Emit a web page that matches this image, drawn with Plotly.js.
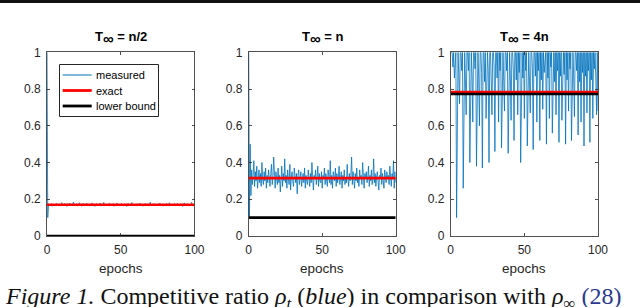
<!DOCTYPE html>
<html>
<head>
<meta charset="utf-8">
<script src="https://cdn.plot.ly/plotly-3.0.1.min.js"></script>
<style>html,body{margin:0;padding:0;background:#fff;}#chart{width:640px;height:307px;}</style>
</head>
<body>
<div id="chart"></div>
<script>
// ---- data ----
const epochStep = 0.5;
const panelTitles = ["n/2", "n", "4n"];
const seriesNames = ["measured", "exact", "lower bound"];
const exactValues = [0.17, 0.315, 0.784];
const lowerBoundValues = [0.0, 0.1, 0.773];
const xTickVals = [0, 50, 100];
const yTickVals = [0, 0.2, 0.4, 0.6, 0.8, 1];
const yTickText = ["0", "0.2", "0.4", "0.6", "0.8", "1"];

const measured1 = [1,0.10,0.17,0.165,0.173,0.168,0.176,0.162,0.171,0.167,
0.174,0.166,0.169,0.178,0.164,0.172,0.168,0.175,0.163,0.170,
0.182,0.166,0.171,0.165,0.177,0.169,0.173,0.161,0.176,0.168,
0.172,0.179,0.164,0.170,0.167,0.174,0.185,0.165,0.171,0.168,
0.176,0.163,0.172,0.169,0.181,0.166,0.174,0.162,0.170,0.177,
0.167,0.173,0.164,0.171,0.178,0.168,0.165,0.175,0.170,0.163,
0.172,0.180,0.166,0.169,0.174,0.161,0.171,0.176,0.167,0.173,
0.164,0.170,0.179,0.168,0.165,0.174,0.169,0.183,0.166,0.172,
0.163,0.170,0.175,0.167,0.171,0.178,0.164,0.169,0.173,0.166,
0.176,0.162,0.171,0.168,0.174,0.180,0.165,0.170,0.167,0.173,
0.169,0.177,0.164,0.171,0.166,0.175,0.168,0.172,0.161,0.170,
0.178,0.165,0.173,0.167,0.170,0.182,0.164,0.169,0.174,0.166,
0.171,0.163,0.176,0.168,0.172,0.165,0.179,0.170,0.167,0.174,
0.162,0.171,0.168,0.177,0.164,0.173,0.169,0.166,0.175,0.170,
0.184,0.165,0.172,0.167,0.171,0.176,0.163,0.169,0.174,0.168,
0.166,0.173,0.170,0.179,0.164,0.171,0.167,0.175,0.162,0.170,
0.172,0.168,0.177,0.165,0.173,0.169,0.181,0.166,0.171,0.164,
0.174,0.170,0.167,0.176,0.163,0.172,0.168,0.178,0.165,0.171,
0.169,0.175,0.166,0.173,0.161,0.170,0.180,0.167,0.172,0.164,
0.176,0.168,0.171,0.165,0.174,0.169,0.183,0.166,0.172,0.170,
0.168];

const measured2 = [1,0.10,0.50,0.22,0.36,0.28,0.33,0.41,0.27,0.35,
0.30,0.38,0.26,0.32,0.36,0.29,0.34,0.27,0.40,0.31,
0.28,0.35,0.30,0.37,0.26,0.33,0.29,0.36,0.31,0.27,
0.34,0.39,0.28,0.32,0.43,0.30,0.26,0.35,0.31,0.28,
0.37,0.29,0.33,0.24,0.31,0.38,0.27,0.34,0.30,0.42,
0.29,0.33,0.26,0.36,0.31,0.28,0.39,0.25,0.32,0.35,
0.30,0.27,0.37,0.31,0.29,0.34,0.23,0.33,0.36,0.28,
0.32,0.35,0.27,0.31,0.34,0.29,0.37,0.26,0.33,0.30,
0.28,0.36,0.31,0.27,0.34,0.29,0.40,0.30,0.25,0.33,
0.31,0.36,0.28,0.32,0.38,0.27,0.34,0.30,0.29,0.35,
0.26,0.33,0.31,0.37,0.28,0.34,0.30,0.27,0.36,0.32,
0.29,0.41,0.28,0.33,0.26,0.35,0.31,0.30,0.37,0.27,
0.34,0.29,0.32,0.38,0.28,0.31,0.35,0.26,0.33,0.30,
0.36,0.28,0.32,0.29,0.39,0.31,0.27,0.34,0.30,0.33,
0.43,0.28,0.35,0.31,0.26,0.34,0.30,0.37,0.29,0.32,
0.27,0.36,0.31,0.33,0.28,0.40,0.30,0.26,0.34,0.31,
0.35,0.29,0.32,0.38,0.27,0.33,0.30,0.36,0.28,0.31,
0.42,0.29,0.34,0.27,0.32,0.35,0.30,0.25,0.33,0.31,
0.37,0.28,0.34,0.30,0.26,0.36,0.32,0.29,0.35,0.31,
0.33,0.28,0.38,0.30,0.27,0.34,0.31,0.41,0.26,0.35,
0.29];

const measured3 = [1,1,1,0.92,1,0.86,1,1,0.10,1,1,0.88,0.72,1,1,0.9,1,0.26,1,1,
0.85,0.66,1,1,0.9,1,0.40,1,1,0.87,0.62,1,1,0.91,1,0.38,1,1,0.86,0.60,
1,1,0.89,0.37,1,1,0.84,1,0.64,1,1,0.9,0.40,1,1,0.85,0.66,1,1,0.92,
0.46,1,1,0.86,1,0.62,1,0.9,1,0.48,1,1,0.84,0.68,1,1,0.9,1,0.45,1,
1,0.87,0.63,1,1,0.91,0.52,1,1,0.85,1,0.66,1,0.89,1,0.40,1,1,0.86,1,
0.64,1,0.9,1,0.49,1,1,0.84,0.67,1,1,0.91,0.47,1,1,0.87,1,0.62,1,0.9,
1,0.52,1,0.85,1,0.69,1,0.89,1,1,0.50,1,0.86,1,0.64,1,0.92,1,0.56,1,
1,0.84,1,0.66,1,0.9,1,0.51,1,0.87,1,0.63,1,1,0.88,1,0.50,1,0.85,1,
0.68,1,0.91,1,0.52,1,1,0.86,0.65,1,1,0.9,1,0.55,1,0.84,1,0.62,1,0.89,
1,0.49,1,0.87,1,0.67,1,0.9,1,0.51,1,0.85,1,0.64,1,0.91,1,0.86,0.66,1,
0.68];

const measuredSets = [measured1, measured2, measured3];

// ---- build ----
const W = 640, H = 307;
const px = v => v / W;          // pixel -> paper x
const py = v => (H - v) / H;    // pixel -> paper y
const axColor = "#262626";
const sans = "Liberation Sans, Arial, sans-serif";
const tickFont = {family: sans, size: 12, color: axColor};
const xDomains = [[px(47), px(194.5)], [px(248.7), px(395.7)], [px(450.7), px(598)]];
const yDomain = [py(236), py(52.3)];
const blue = "#0072BD";
const lineColors = [blue, "#FF0000", "#000000"];

const traces = [];
const layout = {
  width: W, height: H,
  margin: {l: 0, r: 0, t: 0, b: 0},
  paper_bgcolor: "#fff", plot_bgcolor: "#fff",
  showlegend: false,
  annotations: [],
  shapes: [{
    type: "rect", xref: "paper", yref: "paper",
    x0: 0, x1: 1, y0: py(3), y1: 1,
    fillcolor: "#111", line: {width: 0}
  }]
};

measuredSets.forEach((vals, k) => {
  const n = k + 1;
  const xa = n === 1 ? "x" : "x" + n;
  const ya = n === 1 ? "y" : "y" + n;
  const xs = vals.map((_, i) => i * epochStep);
  traces.push({
    x: xs, y: vals, xaxis: xa, yaxis: ya, type: "scatter", mode: "lines",
    name: seriesNames[0], line: {color: lineColors[0], width: 0.8}
  });
  traces.push({
    x: [0, 100], y: [exactValues[k], exactValues[k]], xaxis: xa, yaxis: ya,
    type: "scatter", mode: "lines", name: seriesNames[1],
    line: {color: lineColors[1], width: 2.6}
  });
  traces.push({
    x: [0, 100], y: [lowerBoundValues[k], lowerBoundValues[k]], xaxis: xa, yaxis: ya,
    type: "scatter", mode: "lines", name: seriesNames[2],
    line: {color: lineColors[2], width: 2.6}
  });
  const xKey = n === 1 ? "xaxis" : "xaxis" + n;
  const yKey = n === 1 ? "yaxis" : "yaxis" + n;
  layout[xKey] = {
    domain: xDomains[k], anchor: ya, range: [0, 100],
    tickvals: xTickVals, ticktext: xTickVals.map(String),
    ticks: "inside", ticklen: 3, tickcolor: axColor, tickwidth: 0.8,
    showline: true, linecolor: axColor, linewidth: 0.8, mirror: "ticks",
    showgrid: false, zeroline: false, tickfont: tickFont, ticklabelstandoff: 3
  };
  layout[yKey] = {
    domain: yDomain, anchor: xa, range: [0, 1],
    tickvals: yTickVals, ticktext: yTickText,
    ticks: "inside", ticklen: 3, tickcolor: axColor, tickwidth: 0.8,
    showline: true, linecolor: axColor, linewidth: 0.8, mirror: "ticks",
    showgrid: false, zeroline: false, tickfont: tickFont, ticklabelstandoff: 3
  };
  const cx = (xDomains[k][0] + xDomains[k][1]) / 2;
  layout.annotations.push({
    text: "<b>T<sub><span style='font-size:15px'>∞</span></sub> = " + panelTitles[k] + "</b>",
    xref: "paper", yref: "paper", x: cx, y: py(38),
    xanchor: "center", yanchor: "middle", showarrow: false,
    font: {family: sans, size: 13, color: "#000"}
  });
  layout.annotations.push({
    text: "epochs", xref: "paper", yref: "paper", x: cx, y: py(268),
    xanchor: "center", yanchor: "middle", showarrow: false,
    font: {family: sans, size: 13.5, color: axColor}
  });
});

// custom legend drawn in the first panel
layout.shapes.push({
  type: "rect", xref: "paper", yref: "paper",
  x0: px(59.5), x1: px(158.5), y0: py(116.5), y1: py(64.5),
  fillcolor: "#fff", line: {color: axColor, width: 1}
});
const legendRows = [75, 90.5, 106];
seriesNames.forEach((nm, i) => {
  layout.shapes.push({
    type: "line", xref: "paper", yref: "paper",
    x0: px(62.7), x1: px(91.7), y0: py(legendRows[i]), y1: py(legendRows[i]),
    line: {color: lineColors[i], width: i === 0 ? 1 : 2.8}
  });
  layout.annotations.push({
    text: nm, xref: "paper", yref: "paper", x: px(93.5), y: py(legendRows[i]),
    xanchor: "left", yanchor: "middle", showarrow: false,
    font: {family: sans, size: 11, color: "#000"}
  });
});

layout.annotations.push({
  text: "<i>Figure 1.</i> Competitive ratio <i>ρ<sub>t</sub></i> (<i>blue</i>) in comparison with <i>ρ</i><sub>∞</sub> <span style='color:#2b3990'>(28)</span>",
  xref: "paper", yref: "paper", x: px(3), y: py(297.5), xanchor: "left", yanchor: "middle",
  showarrow: false,
  font: {family: "Liberation Serif, Times New Roman, serif", size: 24, color: "#111"}
});

Plotly.newPlot("chart", traces, layout, {staticPlot: true, displayModeBar: false});
</script>
</body>
</html>
